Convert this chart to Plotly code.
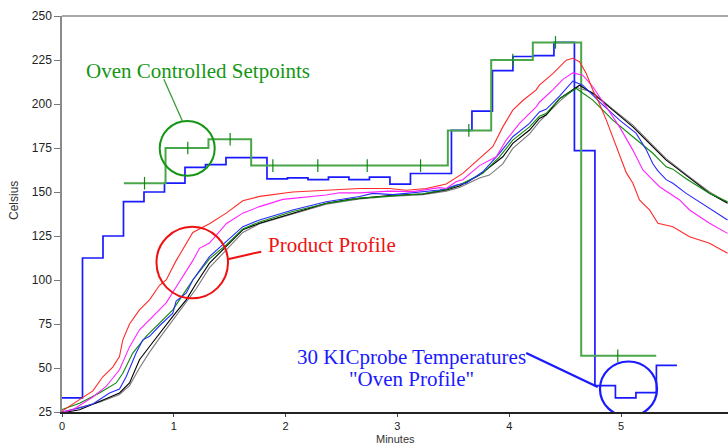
import plotly.graph_objects as go

# ---------------- data ----------------
# Oven profile: 30 KICprobe zone temperatures, each zone 11 s (5.5 min total)
zone_total_min = 5.5
oven_profile = [33, 112.5, 125, 144.5, 150, 155, 164, 165.5, 169.5, 169.5,
                157.5, 158, 157, 158.5, 157, 158.5, 154.5, 160.5, 160.5, 185,
                196, 219, 227, 227.5, 235, 173.5, 40, 33, 36, 51.5]

# Oven controlled setpoints (zone edges in minutes, setpoint values)
setpoint_edges = [0.553, 0.926, 1.31, 1.692, 3.451, 3.839, 4.211, 4.644, 5.315]
setpoint_values = [155, 175, 180, 165, 185, 225, 235, 57]
setpoint_marks_x = [0.738, 1.125, 1.504, 1.886, 2.288, 2.73, 3.207, 3.639, 4.032, 4.414, 4.971]

# Product profiles (minutes, Celsius)
red_x = [0, 0.157, 0.276, 0.365, 0.454, 0.514, 0.544, 0.604, 0.693, 0.783, 0.872, 0.932, 1.021,
         1.17, 1.319, 1.469, 1.617, 1.767, 2.064, 2.363, 2.661, 2.93, 3.08, 3.258, 3.437, 3.585,
         3.734, 3.853, 3.943, 4.032, 4.122, 4.241, 4.27, 4.39, 4.51, 4.569, 4.629, 4.689, 4.748,
         4.808, 4.868, 4.927, 4.987, 5.047, 5.106, 5.165, 5.255, 5.33, 5.464, 5.613, 5.792, 5.953]
red_y = [25.5, 32, 37, 45, 50.5, 56.5, 66, 75, 83, 88.7, 97, 100, 111,
         127, 132, 138, 145, 147.5, 150, 151, 152, 152, 151, 152, 154.5, 160.6,
         169, 175.7, 187, 196.5, 202, 208, 210.7, 217.3, 224.9, 226, 224, 217.3, 208,
         200, 191, 181, 170, 161, 155, 145.5, 139.8, 132.2, 130.3, 124.6, 120.9, 115.2]

magenta_x = [0, 0.097, 0.276, 0.395, 0.514, 0.604, 0.693, 0.812, 0.932, 1.021, 1.17, 1.23, 1.319,
             1.469, 1.617, 1.767, 1.975, 2.064, 2.363, 2.482, 2.661, 2.93, 3.138, 3.377, 3.437,
             3.527, 3.585, 3.734, 3.884, 3.973, 4.092, 4.241, 4.27, 4.39, 4.48, 4.569, 4.658,
             4.748, 4.868, 4.987, 5.106, 5.196, 5.285, 5.345, 5.524, 5.613, 5.792, 5.953]
magenta_y = [25, 26.3, 33.5, 39.5, 49, 62, 71.7, 79.3, 87, 96, 111, 118, 121,
             132, 138, 141.7, 145.8, 146.4, 148.3, 149.6, 149.5, 150.5, 150.2, 152.5, 152,
             156, 157, 165, 170, 179.5, 189, 198.4, 201, 208, 214, 217.7, 216.4,
             209.8, 198.4, 187, 173.8, 162.5, 156.8, 153, 145.5, 139.8, 132.2, 126.5]

blue_x = [0, 0.157, 0.276, 0.335, 0.425, 0.514, 0.574, 0.663, 0.723, 0.783, 0.872, 0.991, 1.021,
          1.111, 1.17, 1.319, 1.469, 1.617, 1.767, 2.064, 2.363, 2.661, 2.78, 2.959, 3.08, 3.377,
          3.437, 3.527, 3.615, 3.764, 3.913, 4.032, 4.182, 4.27, 4.33, 4.45, 4.569, 4.658, 4.808,
          4.987, 5.136, 5.226, 5.285, 5.33, 5.404, 5.464, 5.583, 5.762, 5.953]
blue_y = [25, 27.3, 29.5, 32, 35.8, 38, 45, 58.5, 66, 68, 74, 81.2, 88,
          92.5, 100, 113.3, 121.8, 130.3, 134.1, 139.8, 144.5, 147.4, 149.2, 148.5, 149.2, 151.1,
          152, 154, 155, 161.5, 171.9, 181.4, 189, 195.5, 197, 204.5, 213, 210.7, 201.2,
          190.8, 183.3, 174, 166, 162, 157, 155, 149.2, 141.7, 134.1]

green_x = [0, 0.157, 0.335, 0.485, 0.544, 0.633, 0.753, 0.872, 0.991, 1.111, 1.17, 1.319, 1.469,
           1.617, 1.767, 2.064, 2.363, 2.661, 2.959, 3.228, 3.437, 3.585, 3.764, 3.913, 4.032,
           4.182, 4.27, 4.33, 4.45, 4.6, 4.748, 4.927, 5.106, 5.285, 5.404, 5.464, 5.583, 5.792, 5.953]
green_y = [26.4, 30, 35.8, 41.5, 47, 58.5, 68, 75.5, 83, 94.4, 100, 112, 120,
           129, 133, 138.9, 143.5, 146.5, 148, 149, 151.5, 155, 160.6, 170, 179.5,
           187, 193, 194.6, 203, 208.8, 202.2, 190.8, 181.4, 172, 164.3, 163, 157.5, 149.2, 144.5]

black_x = [0, 0.157, 0.335, 0.514, 0.604, 0.693, 0.783, 0.872, 0.991, 1.111, 1.2, 1.319, 1.469,
           1.617, 1.767, 2.064, 2.363, 2.572, 2.661, 2.93, 3.228, 3.437, 3.555, 3.734, 3.943,
           4.032, 4.182, 4.27, 4.33, 4.45, 4.629, 4.748, 4.927, 5.106, 5.285, 5.404, 5.464,
           5.583, 5.792, 5.953]
black_y = [24.5, 26.3, 31, 35.8, 41.5, 54.7, 62.2, 69.8, 79.3, 88.7, 98, 109.6, 119,
           128.5, 132.2, 137.9, 143.6, 145.8, 146.4, 148, 148.9, 151.1, 153.4, 159.6, 170,
           177.6, 185.2, 191.8, 193.7, 203, 210.7, 206, 196.5, 187, 175.7, 168.1, 165.3,
           159.6, 149.2, 143.6]

gray_x = [0, 0.335, 0.514, 0.604, 0.693, 0.783, 0.872, 0.991, 1.111, 1.2, 1.319, 1.469, 1.617,
          1.767, 2.064, 2.363, 2.661, 2.93, 3.228, 3.437, 3.555, 3.734, 3.823, 3.943, 4.032,
          4.182, 4.27, 4.45, 4.6, 4.748, 4.927, 5.106, 5.285, 5.404, 5.583, 5.792, 5.953]
gray_y = [25, 30.5, 35, 40, 50, 59, 67, 77, 87, 95, 107, 117, 127,
          132, 137.5, 143, 146, 147.5, 148.5, 150.5, 152.5, 158, 159.6, 166, 174.8,
          183, 190, 201.5, 209.5, 206.5, 197, 188, 176.5, 169, 160, 150, 144]

y_ticks = [25, 50, 75, 100, 125, 150, 175, 200, 225, 250]
x_ticks = [0, 1, 2, 3, 4, 5]

# ---------------- figure ----------------
fig = go.Figure()

# oven profile step line
n = len(oven_profile)
zx = [i * zone_total_min / n for i in range(n + 1)]
zy = oven_profile + [oven_profile[-1]]
fig.add_trace(go.Scatter(x=zx, y=zy, mode="lines", line=dict(color="#1a1aff", width=1.7, shape="hv"),
                         hoverinfo="skip"))

# setpoint step line
sy = setpoint_values + [setpoint_values[-1]]
fig.add_trace(go.Scatter(x=setpoint_edges, y=sy, mode="lines",
                         line=dict(color="#4aa64a", width=2, shape="hv"), hoverinfo="skip"))

# setpoint tick marks (value looked up from step)
def setpoint_at(x):
    for i in range(len(setpoint_values)):
        if setpoint_edges[i] <= x < setpoint_edges[i + 1]:
            return setpoint_values[i]
    return setpoint_values[-1]

fig.add_trace(go.Scatter(x=setpoint_marks_x, y=[setpoint_at(x) for x in setpoint_marks_x], mode="markers",
                         marker=dict(symbol="line-ns", size=9, line=dict(color="#118811", width=1.2)),
                         hoverinfo="skip"))

curves = [
    (gray_x, gray_y, "#7a7a7a"),
    (black_x, black_y, "#000000"),
    (green_x, green_y, "#0a8a0a"),
    (blue_x, blue_y, "#2a2aff"),
    (magenta_x, magenta_y, "#ff22ff"),
    (red_x, red_y, "#ff2a2a"),
]
for cx, cy, col in curves:
    fig.add_trace(go.Scatter(x=cx, y=cy, mode="lines", line=dict(color=col, width=1.1), hoverinfo="skip"))

# ---------------- annotation shapes ----------------
serif = "Liberation Serif, Times New Roman, serif"
sans = "Liberation Sans, Arial, sans-serif"
shapes = [
    # top frame line
    dict(type="line", xref="paper", yref="paper", x0=0, x1=1, y0=1, y1=1, line=dict(color="#8a8a8a", width=1.5)),
    # green circle & pointer
    dict(type="circle", xref="x", yref="y", x0=1.12 - 0.246, x1=1.12 + 0.246, y0=174.8 - 15.6, y1=174.8 + 15.6,
         line=dict(color="#159615", width=2)),
    dict(type="line", xref="x", yref="y", x0=0.911, y0=214, x1=1.076, y1=190.5, line=dict(color="#3a9a3a", width=1.3)),
    # red circle & pointer
    dict(type="circle", xref="x", yref="y", x0=1.165 - 0.32, x1=1.165 + 0.32, y0=109.9 - 20.3, y1=109.9 + 20.3,
         line=dict(color="#ee1111", width=2)),
    dict(type="line", xref="x", yref="y", x0=1.483, y0=111.8, x1=1.782, y1=116.1, line=dict(color="#ee1111", width=2)),
    # blue circle & pointer
    dict(type="circle", xref="x", yref="y", x0=5.067 - 0.255, x1=5.067 + 0.255, y0=38.1 - 15.6, y1=38.1 + 15.6,
         line=dict(color="#1a1aff", width=2.2)),
    dict(type="line", xref="x", yref="y", x0=4.152, y0=58.5, x1=4.792, y1=39.2, line=dict(color="#1a1aff", width=2.4)),
]

annotations = [
    dict(x=1.216, y=218.6, text="Oven Controlled Setpoints", showarrow=False,
         font=dict(family=serif, size=21, color="#159615")),
    dict(x=2.415, y=120, text="Product Profile", showarrow=False,
         font=dict(family=serif, size=21, color="#ee1111")),
    dict(x=3.13, y=56.3, text="30 KICprobe Temperatures", showarrow=False,
         font=dict(family=serif, size=21, color="#1a1aff")),
    dict(x=3.13, y=43.5, text="\"Oven Profile\"", showarrow=False,
         font=dict(family=serif, size=21, color="#1a1aff")),
    # axis titles
    dict(xref="paper", yref="paper", x=(395 - 62) / 666, y=(412 - 439) / 396, text="Minutes", showarrow=False,
         font=dict(family=sans, size=11, color="#333"), xanchor="center", yanchor="middle"),
    dict(xref="paper", yref="paper", x=(14 - 62) / 666, y=(412 - 201) / 396, text="Celsius", showarrow=False,
         textangle=-90, font=dict(family=sans, size=12, color="#333"), xanchor="center", yanchor="middle"),
]

fig.update_layout(
    width=728, height=446,
    margin=dict(l=62, r=0, t=16, b=34),
    paper_bgcolor="white", plot_bgcolor="white",
    showlegend=False,
    shapes=shapes, annotations=annotations,
    xaxis=dict(range=[0, 5.957], tickvals=x_ticks, ticktext=[str(v) for v in x_ticks],
               showgrid=False, zeroline=False, showline=True, linecolor="#222", linewidth=1.5,
               ticks="outside", ticklen=3, tickcolor="#444",
               tickfont=dict(family=sans, size=11, color="#222")),
    yaxis=dict(range=[25, 250], tickvals=y_ticks, ticktext=[str(v) for v in y_ticks],
               showgrid=False, zeroline=False, showline=True, linecolor="#8a8a8a", linewidth=1.5,
               ticks="outside", ticklen=6, tickcolor="#777",
               tickfont=dict(family=sans, size=12, color="#222")),
)

fig.write_html("out.html")
